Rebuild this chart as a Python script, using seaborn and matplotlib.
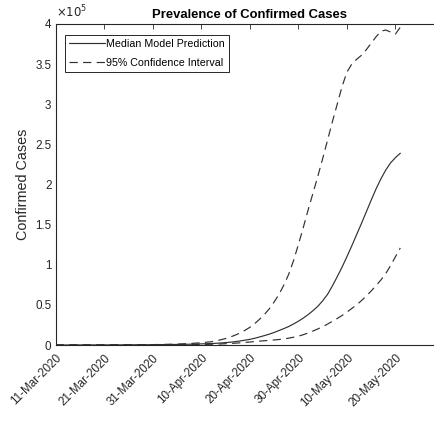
import numpy as np
import pandas as pd
import matplotlib
matplotlib.use("Agg")
import matplotlib.pyplot as plt
from matplotlib.ticker import FuncFormatter, MultipleLocator
import seaborn as sns

# Days since 11-Mar-2020
days = [0, 2, 4, 6, 8, 10, 12, 14, 16, 18, 20, 22, 24,
        26, 27, 28, 29, 30, 31, 32, 33, 34, 35, 36, 37, 38, 39, 40, 41, 42, 43, 44,
        45, 46, 47, 48, 49, 50, 51, 52, 53, 54, 55, 56, 57, 58, 59, 60, 61, 62, 63,
        64, 65, 66, 67, 68, 69, 70, 71]

# Confirmed cases, in units of 1e5
median_pred = [0.000, 0.000, 0.001, 0.001, 0.001, 0.001, 0.002, 0.002, 0.003, 0.003,
               0.004, 0.005, 0.006,
               0.008, 0.009, 0.010, 0.012, 0.014, 0.016, 0.018, 0.021, 0.025, 0.030,
               0.035, 0.042, 0.050, 0.060, 0.070, 0.084, 0.100, 0.117, 0.135, 0.156,
               0.180, 0.204, 0.230, 0.262, 0.296, 0.335, 0.378, 0.427, 0.482, 0.550,
               0.630, 0.735, 0.850, 0.970, 1.100, 1.235, 1.375, 1.515, 1.660, 1.805,
               1.945, 2.070, 2.180, 2.270, 2.335, 2.390]
upper_ci = [0.000, 0.000, 0.001, 0.001, 0.001, 0.002, 0.002, 0.003, 0.003, 0.004,
            0.005, 0.007, 0.010,
            0.014, 0.017, 0.020, 0.024, 0.028, 0.034, 0.040, 0.051, 0.065, 0.080,
            0.100, 0.123, 0.150, 0.183, 0.220, 0.266, 0.320, 0.380, 0.450, 0.535,
            0.630, 0.745, 0.880, 1.050, 1.250, 1.460, 1.680, 1.890, 2.100, 2.320,
            2.550, 2.780, 3.000, 3.220, 3.400, 3.500, 3.560, 3.610, 3.680, 3.760,
            3.840, 3.910, 3.925, 3.900, 3.875, 3.960]
lower_ci = [0.000, 0.000, 0.000, 0.000, 0.000, 0.000, 0.000, 0.001, 0.001, 0.001,
            0.001, 0.001, 0.002,
            0.003, 0.0035, 0.004, 0.005, 0.006, 0.0075, 0.009, 0.011, 0.013, 0.016,
            0.019, 0.023, 0.027, 0.032, 0.037, 0.043, 0.048, 0.053, 0.058, 0.063,
            0.068, 0.076, 0.085, 0.097, 0.110, 0.128, 0.150, 0.174, 0.200, 0.228,
            0.260, 0.295, 0.330, 0.368, 0.410, 0.455, 0.500, 0.553, 0.610, 0.673,
            0.740, 0.810, 0.890, 0.990, 1.100, 1.210]

start = pd.Timestamp("2020-03-11")
end = pd.Timestamp("2020-05-30")
tick_dates = pd.date_range(start, "2020-05-20", freq="10D")
scale = 1e5

dates = [start + pd.Timedelta(days=d) for d in days]
df_med = pd.DataFrame({"date": dates, "cases": np.array(median_pred) * scale})
df_up = pd.DataFrame({"date": dates, "cases": np.array(upper_ci) * scale})
df_lo = pd.DataFrame({"date": dates, "cases": np.array(lower_ci) * scale})

sns.set_style("white")
plt.rcParams["font.family"] = ["Liberation Sans", "DejaVu Sans"]
ink = "#262626"
line_col = "#303030"
dash = (7, 4.5)

fig = plt.figure(figsize=(4.35, 4.21), dpi=100)
left_px, right_px, top_px, bottom_px = 55.6, 444.0, 24.0, 345.0
ax = fig.add_axes([left_px / 435, 1 - bottom_px / 421,
                   (right_px - left_px) / 435, (bottom_px - top_px) / 421])

sns.lineplot(data=df_med, x="date", y="cases", ax=ax, color=line_col, lw=0.85,
             label="Median Model Prediction")
sns.lineplot(data=df_up, x="date", y="cases", ax=ax, color=line_col, lw=0.85,
             label="95% Confidence Interval")
sns.lineplot(data=df_lo, x="date", y="cases", ax=ax, color=line_col, lw=0.85,
             label="_nolegend_")
for ln in ax.lines[1:]:
    ln.set_dashes(dash)

ax.set_xlim(start, end)
ax.set_ylim(0, 4e5)
ax.set_xticks(tick_dates)
ax.set_xticklabels([d.strftime("%d-%b-%Y") for d in tick_dates],
                   rotation=45, ha="right", va="top", rotation_mode="anchor")
ax.yaxis.set_major_locator(MultipleLocator(0.5e5))
ax.yaxis.set_major_formatter(FuncFormatter(lambda v, p: f"{v / scale:g}"))

ax.tick_params(axis="both", direction="in", length=3.5, width=0.6, color=ink,
               labelcolor=ink, labelsize=8.4, top=True)
ax.tick_params(axis="x", pad=5)
ax.tick_params(axis="y", pad=3)
for side in ["left", "bottom", "top"]:
    ax.spines[side].set_color(ink)
    ax.spines[side].set_linewidth(0.8)
ax.spines["right"].set_visible(False)

ax.set_xlabel("")
ax.set_ylabel("Confirmed Cases", fontsize=10.4, color=ink, labelpad=4)
ax.set_title("Prevalence of Confirmed Cases", fontsize=9.4, fontweight="bold",
             color="black", pad=4)
ax.text(0.0, 1.01, r"$\times10^{5}$", transform=ax.transAxes, fontsize=8.4,
        color=ink, ha="left", va="bottom")

leg = ax.legend(loc="upper left", bbox_to_anchor=(0.0247, 0.966), fontsize=7.7,
                frameon=True, fancybox=False, borderpad=0.38, handlelength=3.3,
                handletextpad=0.15, labelspacing=0.85, borderaxespad=0)
leg.get_frame().set_edgecolor(ink)
leg.get_frame().set_linewidth(0.7)
leg.get_frame().set_alpha(1)
for h in leg.legend_handles[1:]:
    h.set_dashes(dash)
for t in leg.get_texts():
    t.set_color("black")

fig.savefig("out.png", dpi=100)
